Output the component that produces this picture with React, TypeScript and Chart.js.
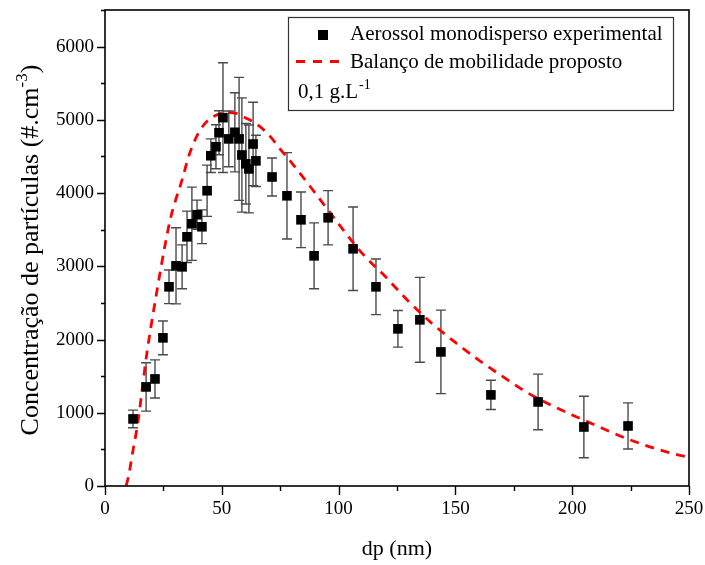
import { useEffect, useRef } from 'react';
import { Chart, registerables } from 'chart.js';

Chart.register(...registerables);

// Experimental monodisperse aerosol: mobility diameter (nm), concentration (#/cm3), std. deviation
const diameters = [
  12, 17.6, 21.4, 24.8, 27.4, 30.4, 33, 35.1, 37.2, 39.4, 41.5, 43.7, 45.3, 47.5, 48.8, 50.5,
  53, 55.6, 57.4, 58.6, 60.3, 61.6, 63.4, 64.6, 71.5, 77.9, 83.9, 89.5, 95.5, 106.2, 116,
  125.4, 134.8, 143.8, 165.2, 185.4, 205, 223.9,
];
const concentrations = [
  916, 1353, 1462, 2023, 2720, 3007, 2993, 3403, 3581, 3704, 3540, 4032, 4510, 4633, 4824, 5030,
  4740, 4830, 4740, 4520, 4400, 4330, 4670, 4440, 4220, 3963, 3635, 3143, 3663, 3239, 2720,
  2146, 2269, 1831, 1244, 1148, 806, 820,
];
const deviations = [
  120, 330, 260, 230, 230, 520, 300, 350, 500, 200, 230, 350, 230, 300, 300, 750,
  380, 540, 840, 780, 550, 600, 570, 350, 260, 590, 380, 450, 370, 570, 380,
  250, 580, 570, 200, 380, 420, 315,
];

// Proposed mobility balance model
const modelDiameters = [
  9, 10, 12, 14, 16, 18, 20, 22, 24, 26, 28, 30, 33, 36, 40, 44, 48, 52, 56, 60, 65, 70, 75,
  80, 90, 100, 110, 120, 130, 140, 150, 160, 170, 180, 190, 200, 210, 220, 230, 240, 250,
];
const modelConcentrations = [
  0, 120, 490, 850, 1340, 1830, 2240, 2620, 2990, 3340, 3650, 3880, 4180, 4520, 4820, 4990,
  5070, 5100, 5090, 5030, 4940, 4800, 4600, 4410, 4000, 3580, 3180, 2860, 2520, 2220, 1960,
  1720, 1500, 1290, 1120, 970, 830, 690, 570, 470, 390,
];

const seriesLabels = ['Aerossol monodisperso experimental', 'Balanço de mobilidade proposto'];
const concentrationNote = '0,1 g.L';
const concentrationNoteSup = '-1';
const xTitle = 'dp (nm)';
const yTitleMain = 'Concentração de partículas (#.cm';
const yTitleSup = '-3';
const yTitleEnd = ')';

const SERIF = '"Liberation Serif", "Times New Roman", serif';

// Vertical error bars with caps, drawn beneath the markers
const errorBarPlugin = {
  id: 'errorBars',
  beforeDatasetsDraw(chart: any) {
    const { ctx, scales } = chart;
    const xs = scales.x;
    const ys = scales.y;
    ctx.save();
    ctx.strokeStyle = '#4a4a4a';
    ctx.lineWidth = 1.4;
    diameters.forEach((d, i) => {
      const px = xs.getPixelForValue(d);
      const top = ys.getPixelForValue(concentrations[i] + deviations[i]);
      const bot = ys.getPixelForValue(concentrations[i] - deviations[i]);
      ctx.beginPath();
      ctx.moveTo(px, top);
      ctx.lineTo(px, bot);
      ctx.moveTo(px - 5, top);
      ctx.lineTo(px + 5, top);
      ctx.moveTo(px - 5, bot);
      ctx.lineTo(px + 5, bot);
      ctx.stroke();
    });
    ctx.restore();
  },
};

// Frame, tick marks, axis titles and the legend box
const decorPlugin = {
  id: 'decor',
  afterDraw(chart: any) {
    const { ctx, chartArea, scales } = chart;
    const { left, right, top, bottom } = chartArea;
    ctx.save();
    ctx.strokeStyle = '#000';
    ctx.lineWidth = 1.6;
    ctx.strokeRect(left, top, right - left, bottom - top);

    ctx.lineWidth = 1.4;
    ctx.beginPath();
    scales.y.ticks.forEach((t: any) => {
      const py = Math.round(scales.y.getPixelForValue(t.value)) + 0.5;
      const len = t.value % 1000 === 0 ? 8 : 4;
      ctx.moveTo(left - len, py);
      ctx.lineTo(left, py);
    });
    scales.x.ticks.forEach((t: any) => {
      const px = Math.round(scales.x.getPixelForValue(t.value)) + 0.5;
      const len = t.value % 50 === 0 ? 9 : 5;
      ctx.moveTo(px, bottom);
      ctx.lineTo(px, bottom + len);
    });
    ctx.stroke();

    ctx.fillStyle = '#000';
    // x title
    ctx.font = `22px ${SERIF}`;
    ctx.textAlign = 'center';
    ctx.textBaseline = 'alphabetic';
    ctx.fillText(xTitle, (left + right) / 2, 555);

    // y title with superscript
    ctx.save();
    ctx.translate(38, 250);
    ctx.rotate(-Math.PI / 2);
    ctx.textAlign = 'left';
    const mainFont = `26px ${SERIF}`;
    const supFont = `17px ${SERIF}`;
    ctx.font = mainFont;
    const w1 = ctx.measureText(yTitleMain).width;
    const w3 = ctx.measureText(yTitleEnd).width;
    ctx.font = supFont;
    const w2 = ctx.measureText(yTitleSup).width;
    let x0 = -(w1 + w2 + w3) / 2;
    ctx.font = mainFont;
    ctx.fillText(yTitleMain, x0, 0);
    x0 += w1;
    ctx.font = supFont;
    ctx.fillText(yTitleSup, x0, -11);
    x0 += w2;
    ctx.font = mainFont;
    ctx.fillText(yTitleEnd, x0, 0);
    ctx.restore();

    // legend box
    ctx.lineWidth = 1.2;
    ctx.strokeStyle = '#333';
    ctx.strokeRect(288.5, 17.5, 385, 93);
    ctx.fillStyle = '#000';
    ctx.fillRect(318, 30, 10, 10);
    ctx.strokeStyle = '#ff0000';
    ctx.lineWidth = 3;
    ctx.setLineDash([9, 8]);
    ctx.beginPath();
    ctx.moveTo(296, 61.5);
    ctx.lineTo(346, 61.5);
    ctx.stroke();
    ctx.setLineDash([]);
    ctx.fillStyle = '#000';
    ctx.font = `21px ${SERIF}`;
    ctx.textAlign = 'left';
    ctx.fillText(seriesLabels[0], 350, 40);
    ctx.fillText(seriesLabels[1], 350, 68);
    ctx.fillText(concentrationNote, 298, 98);
    const wn = ctx.measureText(concentrationNote).width;
    ctx.font = `14px ${SERIF}`;
    ctx.fillText(concentrationNoteSup, 298 + wn + 1, 89);
    ctx.restore();
  },
};

export default function App() {
  const canvasRef = useRef<HTMLCanvasElement | null>(null);

  useEffect(() => {
    if (!canvasRef.current) return;
    const chart = new Chart(canvasRef.current, {
      type: 'scatter',
      data: {
        datasets: [
          {
            type: 'scatter',
            label: seriesLabels[0],
            data: diameters.map((d, i) => ({ x: d, y: concentrations[i] })),
            pointStyle: 'rect',
            pointRadius: 6.8,
            backgroundColor: '#000',
            borderColor: '#000',
            borderWidth: 0,
            order: 0,
          },
          {
            type: 'line',
            label: seriesLabels[1],
            data: modelDiameters.map((d, i) => ({ x: d, y: modelConcentrations[i] })),
            borderColor: '#ff0000',
            borderWidth: 2.8,
            borderDash: [9, 7],
            pointRadius: 0,
            fill: false,
            cubicInterpolationMode: 'monotone',
            order: 1,
          } as any,
        ],
      },
      options: {
        responsive: false,
        animation: false,
        layout: { padding: { top: 10, right: 16, left: 0, bottom: 0 } },
        plugins: {
          legend: { display: false },
          tooltip: { enabled: false },
        },
        scales: {
          x: {
            type: 'linear',
            min: 0,
            max: 250,
            grid: { display: false, drawTicks: false },
            border: { display: false },
            ticks: {
              stepSize: 25,
              padding: 12,
              color: '#000',
              font: { family: SERIF, size: 19 },
              maxRotation: 0,
              autoSkip: false,
              callback: (v: any) => (Number(v) % 50 === 0 ? String(v) : ''),
            },
            afterFit: (s: any) => {
              s.height = 79;
              s.paddingLeft = 0;
              s.paddingRight = 0;
            },
          },
          y: {
            type: 'linear',
            min: 0,
            max: 6500,
            grid: { display: false, drawTicks: false },
            border: { display: false },
            ticks: {
              stepSize: 500,
              padding: 11,
              color: '#000',
              font: { family: SERIF, size: 19 },
              autoSkip: false,
              callback: (v: any) => (Number(v) % 1000 === 0 ? String(v) : ''),
            },
            afterFit: (s: any) => {
              s.width = 105;
              s.paddingTop = 0;
              s.paddingBottom = 0;
            },
          },
        },
      },
      plugins: [errorBarPlugin, decorPlugin],
    });
    return () => chart.destroy();
  }, []);

  return (
    <div style={{ position: 'absolute', left: 0, top: 0, width: 705, height: 565, background: '#fff' }}>
      <canvas ref={canvasRef} width={705} height={565} />
    </div>
  );
}
